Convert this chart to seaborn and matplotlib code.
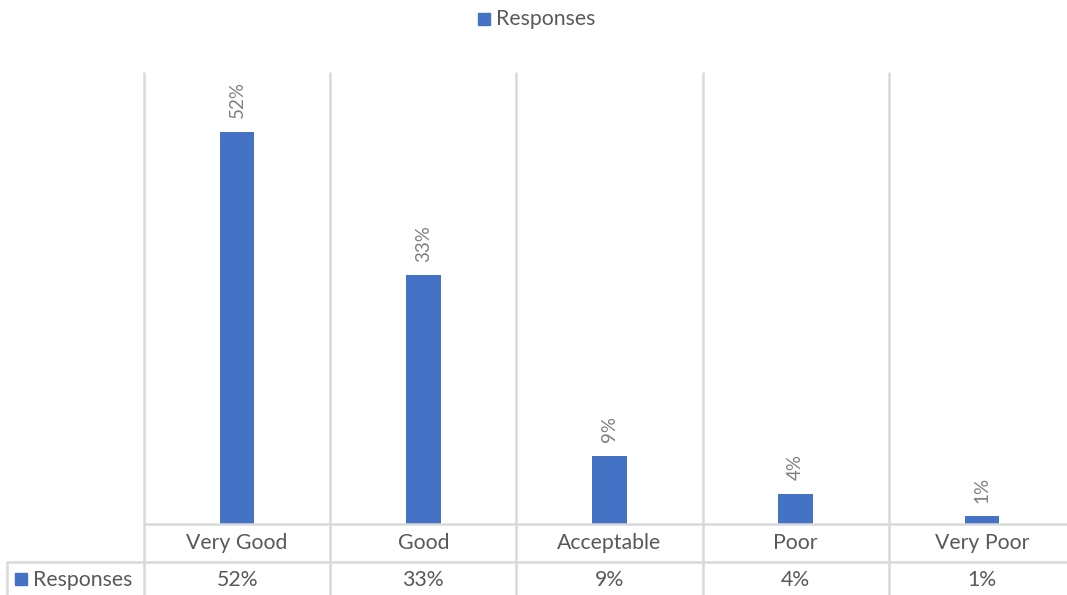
import matplotlib
matplotlib.use("Agg")
import matplotlib.pyplot as plt
import seaborn as sns
import pandas as pd
from matplotlib.patches import Rectangle
from matplotlib.lines import Line2D

categories = ["Very Good", "Good", "Acceptable", "Poor", "Very Poor"]
responses = [52, 33, 9, 4, 1]
value_labels = ["52%", "33%", "9%", "4%", "1%"]
series_name = "Responses"

BAR_COLOR = "#4472C4"
GRID = "#D9D9D9"
TEXT = "#595959"
LABEL = "#7F7F7F"
FONT = ["Lato", "DejaVu Sans"]

sns.set_theme(style="white")
plt.rcParams["font.family"] = FONT

W, H = 1067, 595
fig = plt.figure(figsize=(W / 100, H / 100), dpi=100)

# plot area in pixels: left, top, right, bottom
L, T, R, B = 144, 72, 1075, 524
ax = fig.add_axes([L / W, 1 - B / H, (R - L) / W, (B - T) / H])

df = pd.DataFrame({"category": categories, "value": responses})
sns.barplot(data=df, x="category", y="value", color=BAR_COLOR, width=0.185,
            saturation=1, linewidth=0, ax=ax)

ax.set_ylim(0, 60)
ax.set_xlim(-0.5, len(categories) - 0.5)
ax.set_xlabel("")
ax.set_ylabel("")
ax.set_xticks([])
ax.set_yticks([])
for s in ax.spines.values():
    s.set_visible(False)

xt = ax.get_xaxis_transform()
px_y = lambda y: (B - y) / (B - T)  # pixel row -> axes fraction

# vertical gridlines at category boundaries, running through the data table
bounds = [i - 0.5 for i in range(len(categories) + 1)]
ax.vlines(bounds, px_y(H + 2), 1, transform=xt, colors=GRID, lw=1.8,
          clip_on=False, zorder=0)

# baseline and table row separator
ax.plot([-0.5, len(categories) - 0.5], [0, 0], transform=xt, color=GRID,
        lw=1.8, clip_on=False, zorder=3)
fig.add_artist(Line2D([7 / W, 1.01], [1 - 562 / H] * 2, color=GRID, lw=1.8))
fig.add_artist(Line2D([7 / W, 7 / W], [1 - 562 / H, 0], color=GRID, lw=1.8))

# rotated value labels above bars
for i, (v, lab) in enumerate(zip(responses, value_labels)):
    ax.annotate(lab, (i, v), xytext=(0, 10), textcoords="offset points",
                rotation=90, ha="center", va="bottom", fontsize=13.5,
                color=LABEL)

# data table: category row and value row
for i, (c, lab) in enumerate(zip(categories, value_labels)):
    ax.text(i, px_y(543), c, transform=xt, ha="center", va="center",
            fontsize=15.3, color=TEXT)
    ax.text(i, px_y(580), lab, transform=xt, ha="center", va="center",
            fontsize=15.3, color=TEXT)

# series key in the table
fig.add_artist(Rectangle((15 / W, 1 - 585 / H), 12 / W, 12 / H,
                         color=BAR_COLOR, transform=fig.transFigure))
fig.text(33 / W, 1 - 580 / H, series_name, ha="left", va="center",
         fontsize=15.3, color=TEXT)

# legend at top
fig.add_artist(Rectangle((478 / W, 1 - 25 / H), 12 / W, 12 / H,
                         color=BAR_COLOR, transform=fig.transFigure))
fig.text(496 / W, 1 - 19 / H, series_name, ha="left", va="center",
         fontsize=15.3, color=TEXT)

fig.savefig("out.png", dpi=100, facecolor="white")
